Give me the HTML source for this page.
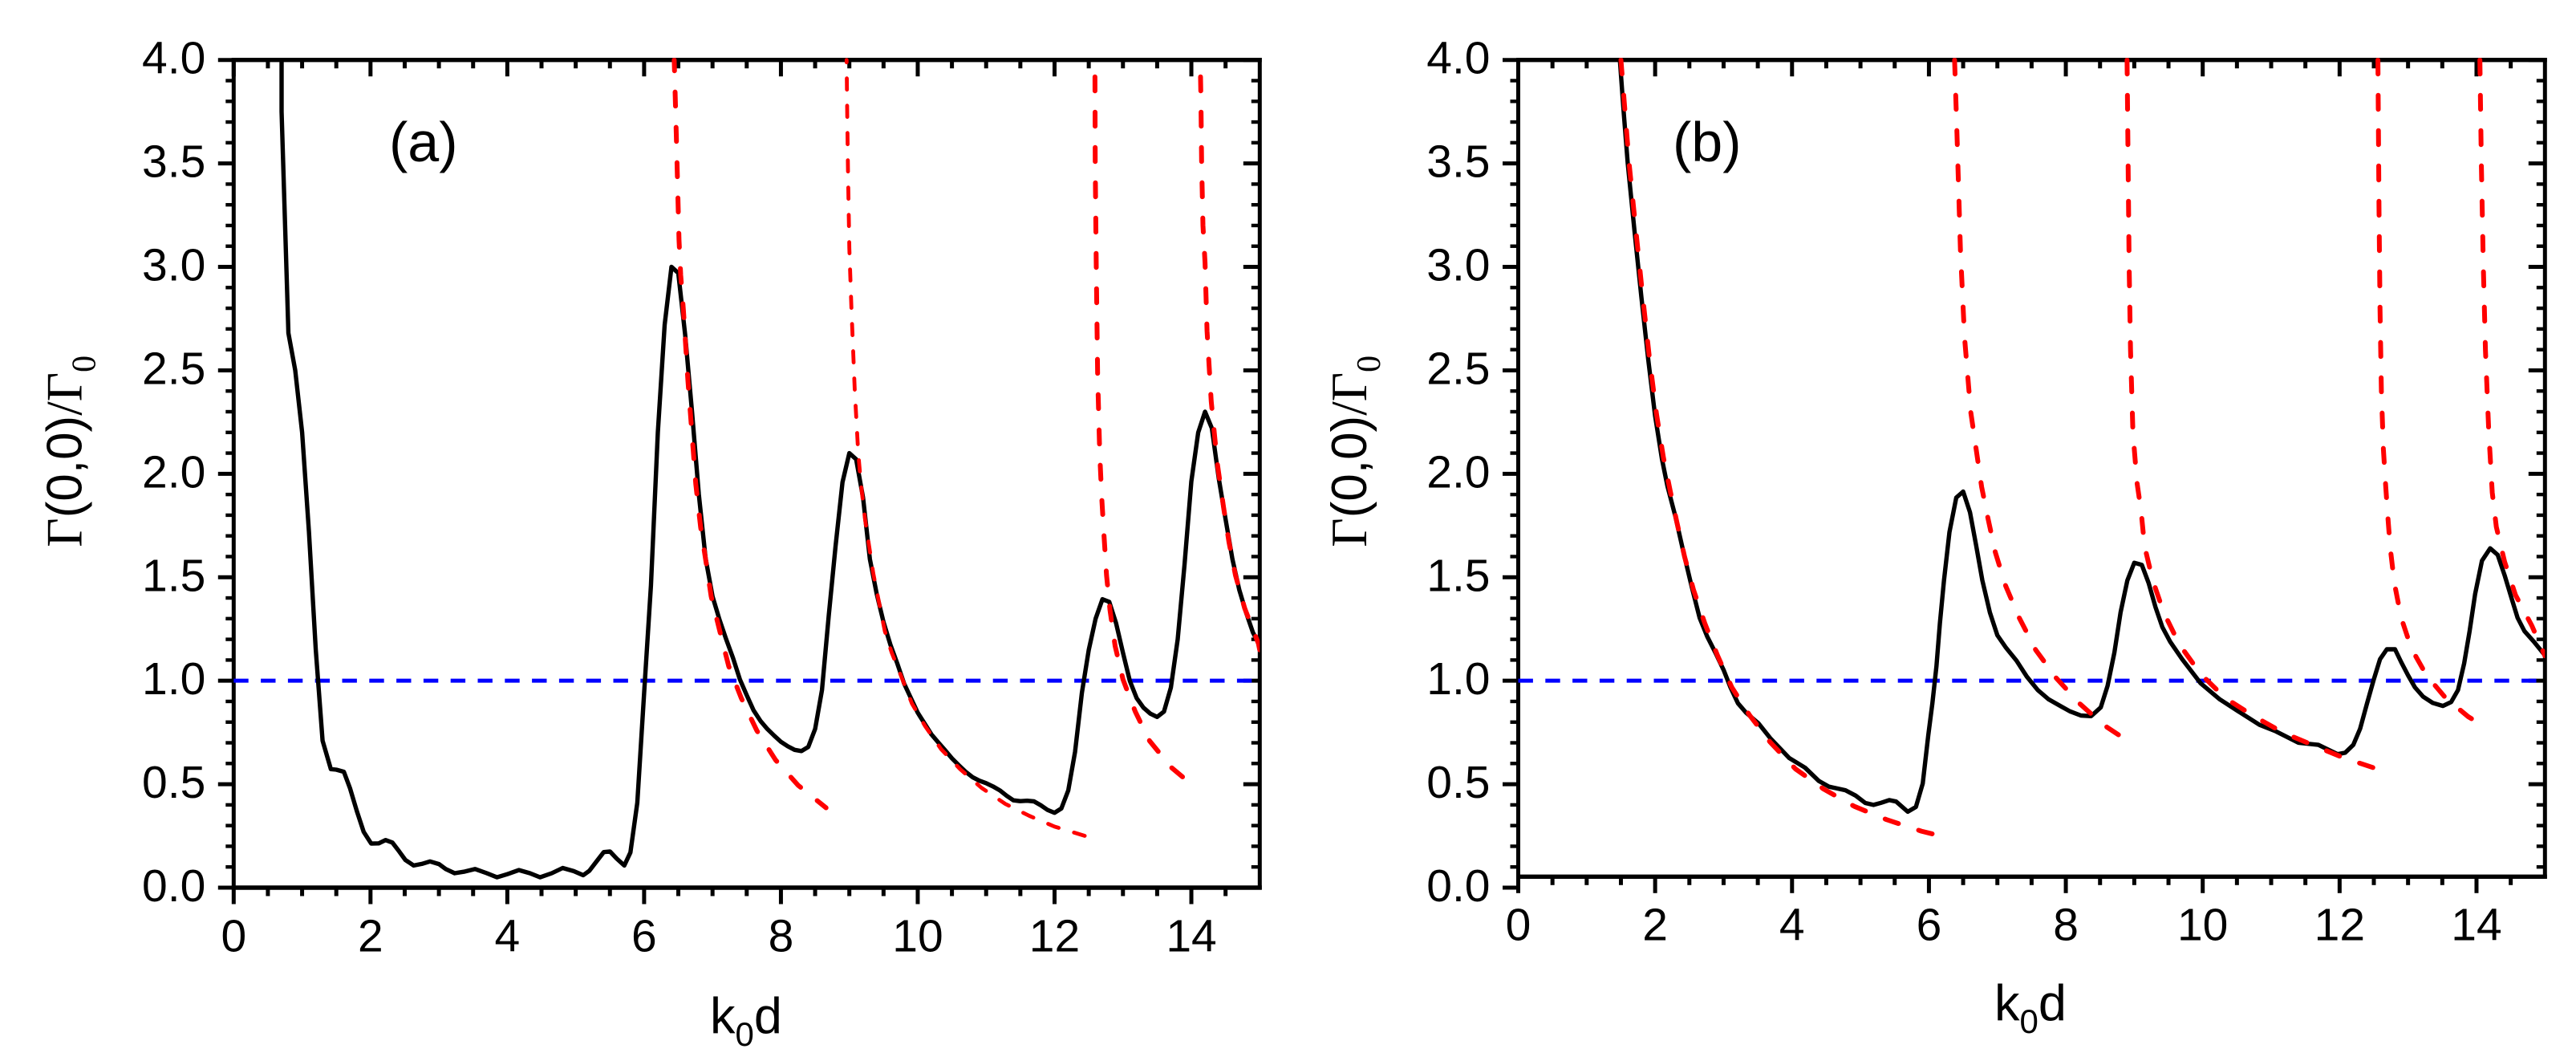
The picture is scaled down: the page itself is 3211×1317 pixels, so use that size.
<!DOCTYPE html>
<html lang="en">
<head>
<meta charset="utf-8">
<title>Decay rate versus k0d</title>
<style>
html,body{margin:0;padding:0;background:#fff;width:3211px;height:1317px;overflow:hidden}
svg{display:block}
text{font-family:"Liberation Sans",sans-serif;fill:#000}
</style>
</head>
<body>
<svg id="figure" xmlns="http://www.w3.org/2000/svg" width="3211" height="1317" viewBox="0 0 3211 1317"></svg>
<script>
// ---------- shared axis data ----------
const xMajorTicks = [0, 2, 4, 6, 8, 10, 12, 14];
const xTickLabels = ["0", "2", "4", "6", "8", "10", "12", "14"];
const xMinorTicks = [0.5, 1, 1.5, 2.5, 3, 3.5, 4.5, 5, 5.5, 6.5, 7, 7.5, 8.5, 9, 9.5, 10.5, 11, 11.5, 12.5, 13, 13.5, 14.5];
const yMajorTicks = [0, 0.5, 1, 1.5, 2, 2.5, 3, 3.5, 4];
const yTickLabels = ["0.0", "0.5", "1.0", "1.5", "2.0", "2.5", "3.0", "3.5", "4.0"];
const yMinorTicks = [0.1, 0.2, 0.3, 0.4, 0.6, 0.7, 0.8, 0.9, 1.1, 1.2, 1.3, 1.4, 1.6, 1.7, 1.8, 1.9, 2.1, 2.2, 2.3, 2.4, 2.6, 2.7, 2.8, 2.9, 3.1, 3.2, 3.3, 3.4, 3.6, 3.7, 3.8, 3.9];
const referenceLevel = [1.0];

// ---------- panel (a) series ----------
const aBlackX = [0.7,0.7,0.8,0.9,1,1.1,1.2,1.3,1.42,1.5,1.61,1.7,1.8,1.9,2.01,2.12,2.22,2.32,2.42,2.51,2.63,2.75,2.87,3,3.1,3.23,3.38,3.53,3.7,3.85,4,4.17,4.33,4.48,4.65,4.81,4.97,5.11,5.2,5.3,5.41,5.5,5.6,5.71,5.8,5.9,6,6.1,6.2,6.3,6.4,6.5,6.6,6.7,6.8,6.9,7,7.1,7.2,7.3,7.4,7.5,7.6,7.7,7.8,7.9,8,8.1,8.2,8.3,8.4,8.5,8.6,8.7,8.8,8.9,9,9.1,9.2,9.3,9.4,9.5,9.6,9.7,9.8,9.9,10,10.1,10.2,10.3,10.4,10.5,10.6,10.7,10.8,10.9,11,11.1,11.2,11.3,11.4,11.5,11.6,11.7,11.8,11.9,12,12.1,12.2,12.3,12.4,12.5,12.6,12.7,12.8,12.9,13,13.1,13.2,13.3,13.4,13.5,13.6,13.7,13.8,13.9,14,14.1,14.2,14.3,14.4,14.5,14.6,14.7,14.8,14.9,15];
const aBlackY = [4.05,3.75,2.68,2.5,2.2,1.72,1.15,0.71,0.573,0.57,0.56,0.48,0.37,0.27,0.213,0.214,0.23,0.218,0.175,0.134,0.107,0.115,0.127,0.114,0.09,0.07,0.078,0.09,0.07,0.05,0.065,0.085,0.07,0.05,0.07,0.095,0.08,0.06,0.082,0.125,0.172,0.175,0.14,0.107,0.17,0.41,0.94,1.46,2.2,2.72,3,2.97,2.67,2.3,1.9,1.59,1.407,1.297,1.2,1.11,1.006,0.93,0.857,0.806,0.767,0.735,0.705,0.683,0.666,0.66,0.68,0.767,0.955,1.317,1.653,1.96,2.1,2.07,1.885,1.588,1.42,1.284,1.174,1.084,0.987,0.916,0.845,0.793,0.741,0.702,0.664,0.625,0.592,0.56,0.534,0.517,0.505,0.489,0.47,0.444,0.422,0.418,0.42,0.417,0.398,0.375,0.362,0.383,0.47,0.657,0.942,1.148,1.3,1.394,1.381,1.278,1.135,1,0.916,0.87,0.841,0.825,0.851,0.967,1.2,1.56,1.963,2.2,2.3,2.22,1.98,1.78,1.588,1.44,1.33,1.233,1.17];
const aRed1X = [6.44,6.47,6.51,6.535,6.575,6.64,6.755,6.826,6.904,6.98,7.107,7.236,7.42,7.647,7.92,8.25,8.66];
const aRed1Y = [4,3.64,3.13,2.96,2.79,2.45,1.95,1.743,1.575,1.407,1.239,1.071,0.916,0.76,0.618,0.495,0.386];
const aRed2X = [8.96,8.97,8.98,9,9.03,9.08,9.13,9.17,9.23,9.29,9.35,9.425,9.52,9.62,9.76,9.915,10.11,10.34,10.62,10.93,11.28,11.63,12,12.475];
const aRed2Y = [4,3.73,3.47,3.09,2.8,2.4,2.1,1.95,1.78,1.65,1.52,1.394,1.239,1.135,1.02,0.89,0.78,0.67,0.573,0.483,0.405,0.347,0.295,0.247];
const aRed3X = [12.59,12.595,12.61,12.63,12.66,12.69,12.72,12.76,12.81,12.885,13,13.18,13.39,13.71,14.04];
const aRed3Y = [4,3.5,3,2.48,2.1,1.885,1.717,1.51,1.342,1.168,1.006,0.851,0.709,0.58,0.489];
const aRed4X = [14.13,14.14,14.15,14.17,14.2,14.23,14.29,14.38,14.47,14.55,14.645,14.78,14.98,15];
const aRed4Y = [4,3.8,3.51,3.2,3.02,2.69,2.35,2.05,1.84,1.67,1.51,1.35,1.18,1.148];

// ---------- panel (b) series ----------
const bBlackX = [1.48,1.54,1.6,1.7,1.8,1.9,2,2.1,2.18,2.295,2.41,2.53,2.65,2.76,2.88,3,3.1,3.21,3.33,3.51,3.68,3.96,4.19,4.39,4.54,4.78,4.93,5.07,5.19,5.3,5.42,5.52,5.69,5.81,5.91,5.99,6.05,6.11,6.16,6.22,6.3,6.4,6.5,6.6,6.69,6.78,6.89,7,7.12,7.28,7.43,7.59,7.75,7.92,8.06,8.22,8.37,8.51,8.61,8.71,8.8,8.9,9,9.11,9.21,9.31,9.41,9.525,9.7,9.97,10.25,10.52,10.83,11.07,11.4,11.69,11.97,12.08,12.2,12.3,12.4,12.5,12.59,12.69,12.81,12.9,13,13.1,13.22,13.36,13.51,13.63,13.73,13.82,13.9,13.98,14.08,14.2,14.31,14.41,14.51,14.6,14.7,14.84,15];
const bBlackY = [4.02,3.75,3.5,3.17,2.85,2.55,2.28,2.07,1.94,1.795,1.627,1.459,1.304,1.214,1.136,1.052,0.968,0.891,0.845,0.794,0.723,0.626,0.58,0.516,0.488,0.471,0.445,0.409,0.4,0.41,0.423,0.416,0.367,0.39,0.503,0.736,0.89,1.07,1.278,1.485,1.718,1.885,1.914,1.814,1.653,1.485,1.33,1.22,1.162,1.097,1.02,0.955,0.91,0.878,0.852,0.832,0.829,0.871,0.975,1.136,1.33,1.485,1.57,1.56,1.472,1.356,1.259,1.188,1.104,0.988,0.91,0.852,0.787,0.755,0.7,0.69,0.645,0.652,0.69,0.768,0.89,1.007,1.104,1.152,1.152,1.09,1.026,0.968,0.923,0.893,0.878,0.897,0.955,1.084,1.24,1.42,1.58,1.64,1.608,1.51,1.401,1.304,1.24,1.188,1.123];
const bRed1X = [1.5,1.56,1.62,1.72,1.82,1.92,2.02,2.12,2.22,2.315,2.43,2.56,2.725,2.91,3.12,3.38,3.68,4.05,4.46,4.91,5.38,5.89,6.28];
const bRed1Y = [4,3.75,3.5,3.17,2.85,2.55,2.29,2.08,1.918,1.77,1.6,1.44,1.278,1.123,0.968,0.833,0.703,0.574,0.477,0.393,0.329,0.273,0.241];
const bRed2X = [6.375,6.41,6.46,6.52,6.61,6.77,6.86,6.97,7.12,7.32,7.56,7.86,8.2,8.55,8.9];
const bRed2Y = [4,3.64,3.08,2.66,2.3,1.937,1.789,1.62,1.459,1.304,1.149,1.013,0.89,0.787,0.71];
const bRed3X = [8.895,8.91,8.925,8.945,8.98,9.04,9.1,9.15,9.27,9.43,9.66,9.97,10.33,10.74,11.17,11.6,12.07,12.51];
const bRed3Y = [4,3.5,3,2.6,2.2,1.957,1.82,1.65,1.485,1.33,1.175,1.033,0.916,0.83,0.75,0.69,0.626,0.578];
const bRed4X = [12.56,12.575,12.59,12.61,12.64,12.67,12.7,12.74,12.8,12.9,13.05,13.27,13.55,13.88,13.96];
const bRed4Y = [4,3.3,2.8,2.4,2.12,1.957,1.81,1.64,1.472,1.304,1.155,1.026,0.916,0.826,0.81];
const bRed5X = [14.05,14.07,14.1,14.13,14.18,14.23,14.29,14.41,14.57,14.81,15];
const bRed5Y = [4,3.5,3,2.6,2.2,1.91,1.743,1.575,1.414,1.265,1.12];

// ---------- helpers ----------
const SVG_NS = "http://www.w3.org/2000/svg";
const svg = document.getElementById("figure");

function make(parent, tag, props) {
  const node = document.createElementNS(SVG_NS, tag);
  for (const key in props) node.setAttribute(key, props[key]);
  parent.appendChild(node);
  return node;
}

function rule(parent, x1, y1, x2, y2, width, name) {
  const line = make(parent, "line", {x1: x1, y1: y1, x2: x2, y2: y2, stroke: "#000", "stroke-width": width});
  
  
  return line;
}

function tspan(parent, content, props) {
  const span = make(parent, "tspan", props);
  span.textContent = content;
  return span;
}

function drawPanel(opts) {
  const g = make(svg, "g", {});
  
  

  const sx = v => opts.x0 + v * (opts.x1 - opts.x0) / 15;
  const sy = v => opts.yZero - v * (opts.yZero - opts.yTop) / 4;
  const T = 5;

  // frame
  rule(g, opts.x0, opts.yTop - 2.5, opts.x0, opts.xAxisY + 2.5, T, 'left-axis');
  rule(g, opts.x1, opts.yTop - 2.5, opts.x1, opts.xAxisY + 2.5, T, 'right-axis');
  rule(g, opts.x0 - 2.5, opts.yTop, opts.x1 + 2.5, opts.yTop, 5.4, 'top-axis');
  rule(g, opts.x0 - 2.5, opts.xAxisY, opts.x1 + 2.5, opts.xAxisY, 5.4, 'bottom-axis');

  // x ticks
  xMajorTicks.forEach((v, i) => {
    rule(g, sx(v), opts.xAxisY, sx(v), opts.xAxisY + 20.5, T, 'x-major-tick');
    rule(g, sx(v), opts.yTop, sx(v), opts.yTop + 20.5, T, 'x-top-major-tick');
    const label = make(g, "text", {x: sx(v), y: opts.xLabelY, "text-anchor": "middle", "font-size": 57});
    label.textContent = xTickLabels[i];
    
    
  });
  xMinorTicks.forEach(v => {
    rule(g, sx(v), opts.xAxisY, sx(v), opts.xAxisY + 10.5, T, 'x-minor-tick');
    rule(g, sx(v), opts.yTop, sx(v), opts.yTop + 10.5, T, 'x-top-minor-tick');
  });

  // y ticks
  yMajorTicks.forEach((v, i) => {
    rule(g, opts.x0 - 19.5, sy(v), opts.x0, sy(v), T, 'y-major-tick');
    if (sy(v) < opts.xAxisY) rule(g, opts.x1, sy(v), opts.x1 - 20.5, sy(v), T, 'y-right-major-tick');
    const label = make(g, "text", {x: opts.x0 - 35, y: sy(v) + 17, "text-anchor": "end", "font-size": 57});
    label.textContent = yTickLabels[i];
    
    
  });
  yMinorTicks.forEach(v => {
    rule(g, opts.x0 - 10, sy(v), opts.x0, sy(v), 4.4, 'y-minor-tick');
    rule(g, opts.x1, sy(v), opts.x1 - 10.5, sy(v), 4.4, 'y-right-minor-tick');
  });

  // axis titles
  const xTitle = make(g, "text", {x: opts.xTitleX, y: opts.xTitleY, "font-size": 63});
  
  
  tspan(xTitle, "k", {});
  tspan(xTitle, "0", {"font-size": 42, dy: 15.5});
  tspan(xTitle, "d", {dy: -15.5});

  const yTitle = make(g, "text", {transform: "translate(" + (opts.x0 - 189.6) + ",681.7) rotate(-90)", "font-size": 62});
  
  
  tspan(yTitle, "\u0393", {style: 'font-family:"Liberation Serif",serif', "font-size": 63});
  tspan(yTitle, "(0,0)", {});
  tspan(yTitle, "/\u0393", {style: 'font-family:"Liberation Serif",serif', "font-size": 63});
  tspan(yTitle, "0", {style: 'font-family:"Liberation Serif",serif', "font-size": 42, dy: 17});

  // panel letter
  const letter = make(g, "text", {x: opts.letterX, y: 201, "font-size": 70});
  letter.textContent = opts.letter;
  
  

  // clip for curves
  const clip = make(g, "clipPath", {id: opts.clipId});
  make(clip, "rect", {x: opts.x0 - 3, y: opts.yTop - 2.5, width: opts.x1 - opts.x0 + 3, height: opts.yZero - opts.yTop + 6});

  // reference line
  const ref = make(g, "line", {x1: sx(0), y1: sy(referenceLevel[0]), x2: sx(15), y2: sy(referenceLevel[0]), stroke: "#0000ff", "stroke-width": 5, "stroke-dasharray": "18.4 15.4"});
  
  

  const pathOf = (xs, ys) => xs.map((x, i) => (i ? "L" : "M") + sx(x).toFixed(1) + " " + sy(ys[i]).toFixed(1)).join("");

  // black computed curve
  const black = make(g, "path", {d: pathOf(opts.blackX, opts.blackY), fill: "none", stroke: "#000", "stroke-width": 5.4, "stroke-linejoin": "round", "clip-path": "url(#" + opts.clipId + ")"});
  
  

  // red asymptotic curves
  opts.reds.forEach(r => {
    const red = make(g, "path", {d: pathOf(r.x, r.y), fill: "none", stroke: "#ff0000", "stroke-width": r.width, "stroke-linecap": "round", "stroke-linejoin": "round", "stroke-dasharray": r.dash, "stroke-dashoffset": r.offset, "clip-path": "url(#" + opts.clipId + ")"});
    
    
  });
}

drawPanel({
  name: "panel-a", letter: "(a)", letterX: 485, clipId: "clipA",
  x0: 291.3, x1: 1570.3, yTop: 74.7, yZero: 1106, xAxisY: 1106,
  xLabelY: 1185.5, xTitleX: 885, xTitleY: 1287.5,
  blackX: aBlackX, blackY: aBlackY,
  reds: [
    {x: aRed1X, y: aRed1Y, width: 6, dash: "17.5 26.5", offset: 4},
    {x: aRed2X, y: aRed2Y, width: 4.8, dash: "14 20", offset: 11},
    {x: aRed3X, y: aRed3Y, width: 6, dash: "17.5 26.5", offset: 23},
    {x: aRed4X, y: aRed4Y, width: 6, dash: "17.5 26.5", offset: 23}
  ]
});

drawPanel({
  name: "panel-b", letter: "(b)", letterX: 2085, clipId: "clipB",
  x0: 1892.5, x1: 3172.3, yTop: 74.7, yZero: 1106, xAxisY: 1092.3,
  xLabelY: 1171.5, xTitleX: 2486, xTitleY: 1271.7,
  blackX: bBlackX, blackY: bBlackY,
  reds: [
    {x: bRed1X, y: bRed1Y, width: 6, dash: "17.5 26.5", offset: 0},
    {x: bRed2X, y: bRed2Y, width: 6, dash: "17.5 26.5", offset: 0},
    {x: bRed3X, y: bRed3Y, width: 6, dash: "17.5 26.5", offset: 0},
    {x: bRed4X, y: bRed4Y, width: 6, dash: "17.5 26.5", offset: 0},
    {x: bRed5X, y: bRed5Y, width: 6, dash: "17.5 26.5", offset: 0}
  ]
});
</script>
</body>
</html>
